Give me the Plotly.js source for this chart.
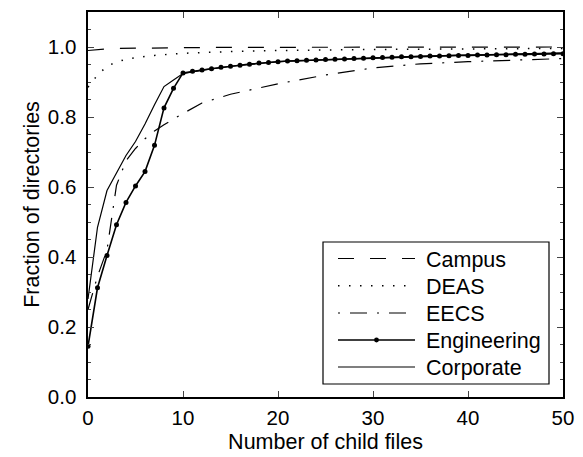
<!DOCTYPE html>
<html>
<head>
<meta charset="utf-8">
<script src="https://cdn.plot.ly/plotly-3.0.1.min.js"></script>
<style>html,body{margin:0;padding:0;background:#fff;}#chart{width:583px;height:457px;}</style>
</head>
<body>
<div id="chart"></div>
<script>
// Campus (dashed)
var campusX = [0, 1, 2, 3, 5, 10, 15, 20, 30, 40, 50];
var campusY = [0.990, 0.993, 0.995, 0.996, 0.997, 0.998, 0.999, 0.999, 0.999, 1.000, 1.000];

// DEAS (dotted)
var deasX = [0, 1, 2, 3, 4, 5, 6, 7, 8, 9, 10, 15, 20, 30, 40, 50];
var deasY = [0.885, 0.920, 0.945, 0.957, 0.965, 0.970, 0.973, 0.976, 0.978, 0.980, 0.982, 0.987, 0.990, 0.993, 0.995, 0.996];

// EECS (dash-dot)
var eecsX = [0, 1, 2, 3, 4, 5, 6, 7, 8, 9, 10, 12, 15, 20, 25, 30, 35, 40, 45, 50];
var eecsY = [0.250, 0.345, 0.420, 0.605, 0.675, 0.710, 0.738, 0.760, 0.778, 0.795, 0.810, 0.840, 0.865, 0.895, 0.920, 0.940, 0.952, 0.958, 0.963, 0.967];

// Engineering (solid with dots), one point per child-file count
var engX = [0,1,2,3,4,5,6,7,8,9,10,11,12,13,14,15,16,17,18,19,20,21,22,23,24,25,26,27,28,29,30,31,32,33,34,35,36,37,38,39,40,41,42,43,44,45,46,47,48,49,50];
var engY = [0.145,0.312,0.404,0.492,0.556,0.603,0.644,0.719,0.826,0.882,0.926,0.931,0.934,0.938,0.942,0.945,0.948,0.951,0.954,0.956,0.958,0.960,0.961,0.962,0.963,0.964,0.965,0.966,0.967,0.968,0.969,0.970,0.971,0.972,0.972,0.973,0.974,0.974,0.975,0.976,0.976,0.977,0.977,0.978,0.978,0.979,0.979,0.980,0.980,0.981,0.981];

// Corporate (solid)
var corpX = [0, 1, 2, 3, 4, 5, 6, 7, 8, 9, 10, 12, 15, 20, 25, 30, 35, 40, 45, 50];
var corpY = [0.280, 0.485, 0.590, 0.640, 0.690, 0.730, 0.780, 0.835, 0.887, 0.906, 0.924, 0.934, 0.945, 0.958, 0.964, 0.970, 0.974, 0.977, 0.980, 0.983];

var seriesNames = ['Campus', 'DEAS', 'EECS', 'Engineering', 'Corporate'];

var xTickVals = [0, 10, 20, 30, 40, 50];
var yTickVals = [0, 0.2, 0.4, 0.6, 0.8, 1.0];
var yTickText = ['0.0', '0.2', '0.4', '0.6', '0.8', '1.0'];

var FONT = 'Liberation Sans, Arial, Helvetica, sans-serif';

var styles = [
  {dash: '16px,16px', width: 1.2},
  {dash: '1.5px,9.5px', width: 1.5},
  {dash: '17px,10px,2px,10px', width: 1.2},
  {dash: 'solid', width: 1.6},
  {dash: 'solid', width: 1.2}
];
var legendDash = ['16px,16px', '1.5px,9.5px', '2px,10px,17px,10px', 'solid', 'solid'];

var xs = [campusX, deasX, eecsX, engX, corpX];
var ys = [campusY, deasY, eecsY, engY, corpY];

var traces = seriesNames.map(function (n, i) {
  var t = {x: xs[i], y: ys[i], name: n, mode: 'lines', showlegend: false,
           line: {color: '#000', width: styles[i].width, dash: styles[i].dash}};
  if (n === 'Engineering') { t.mode = 'lines+markers'; t.marker = {color: '#000', size: 5}; }
  return t;
});

// plot-area geometry (pixels)
var W = 583, H = 457, ML = 88, MR = 20, MT = 12, MB = 60;
var PW = W - ML - MR, PH = H - MT - MB;
function px(x) { return (x - ML) / PW; }
function py(y) { return (H - MB - y) / PH; }

// custom legend box (matches the reference's long line samples)
var shapes = [{type: 'rect', xref: 'paper', yref: 'paper',
  x0: px(323), x1: px(549), y0: py(384), y1: py(242),
  line: {color: '#000', width: 1.2}, fillcolor: '#fff', layer: 'above'}];
var annotations = [];
var rowY = [258.5, 285.8, 313, 340, 367];
seriesNames.forEach(function (n, i) {
  shapes.push({type: 'line', xref: 'paper', yref: 'paper', layer: 'above',
    x0: px(338), x1: px(415), y0: py(rowY[i]), y1: py(rowY[i]),
    line: {color: '#000', width: styles[i].width, dash: legendDash[i]}});
  if (n === 'Engineering') {
    shapes.push({type: 'circle', xref: 'paper', yref: 'paper', layer: 'above',
      x0: px(376.5 - 2.4), x1: px(376.5 + 2.4), y0: py(rowY[i] + 2.4), y1: py(rowY[i] - 2.4),
      fillcolor: '#000', line: {color: '#000', width: 0}});
  }
  annotations.push({xref: 'paper', yref: 'paper', x: px(424), y: py(rowY[i] + 1),
    xanchor: 'left', yanchor: 'middle', showarrow: false, text: n,
    font: {family: FONT, size: 21.5, color: '#000'}});
});

var layout = {
  width: W, height: H,
  margin: {l: ML, r: MR, t: MT, b: MB, pad: 0},
  paper_bgcolor: '#fff', plot_bgcolor: '#fff',
  font: {family: FONT, size: 20, color: '#000'},
  showlegend: false,
  shapes: shapes,
  annotations: annotations,
  xaxis: {
    range: [0, 50], tickvals: xTickVals, ticks: 'inside', ticklen: 6, tickwidth: 1,
    showline: true, linecolor: '#000', linewidth: 1.6, mirror: 'ticks',
    showgrid: false, zeroline: false, ticklabelstandoff: 2,
    tickfont: {family: FONT, size: 20.5, color: '#000'},
    title: {text: 'Number of child files', font: {family: FONT, size: 21.5, color: '#000'}, standoff: 6}
  },
  yaxis: {
    range: [0, 1.1], tickvals: yTickVals, ticktext: yTickText, ticks: 'inside', ticklen: 6, tickwidth: 1,
    showline: true, linecolor: '#000', linewidth: 1.6, mirror: 'ticks',
    showgrid: false, zeroline: false, ticklabelstandoff: 6,
    minor: {dtick: 0.05, ticks: 'inside', ticklen: 3, tickwidth: 1, showgrid: false},
    tickfont: {family: FONT, size: 20.5, color: '#000'},
    title: {text: 'Fraction of directories', font: {family: FONT, size: 21.5, color: '#000'}, standoff: 2}
  }
};

Plotly.newPlot('chart', traces, layout, {displayModeBar: false, staticPlot: true});
</script>
</body>
</html>
